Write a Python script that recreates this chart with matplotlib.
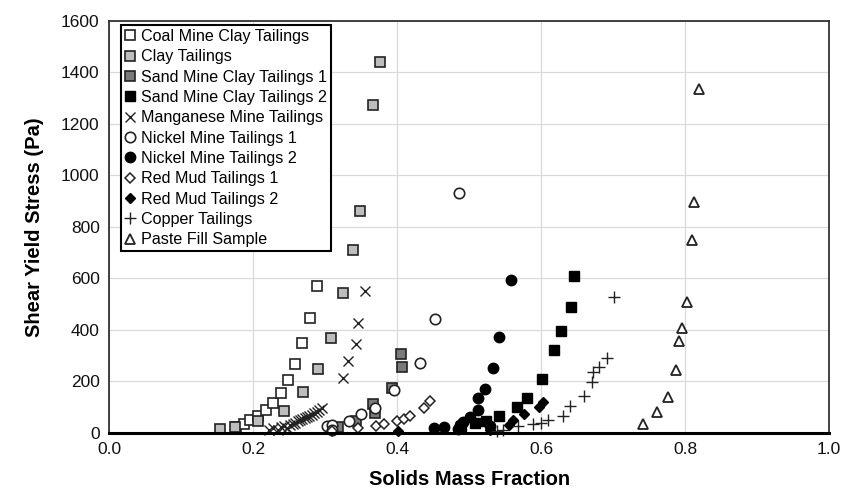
import matplotlib
matplotlib.use("Agg")
import matplotlib.pyplot as plt

plt.rcParams['font.family'] = ['Liberation Sans', 'DejaVu Sans']

# Solids mass fraction (x) and shear yield stress in Pa (y) for each material
coal_x = [0.176, 0.187, 0.196, 0.207, 0.218, 0.228, 0.238, 0.248, 0.258, 0.268, 0.279, 0.288]
coal_y = [22, 35, 48, 66, 89, 115, 154, 206, 268, 348, 445, 568]

clay_x = [0.154, 0.174, 0.207, 0.242, 0.269, 0.290, 0.308, 0.325, 0.338, 0.348, 0.367, 0.376]
clay_y = [14, 21, 46, 86, 160, 249, 368, 543, 708, 862, 1274, 1440]

sand1_x = [0.318, 0.342, 0.366, 0.369, 0.393, 0.405, 0.407]
sand1_y = [22, 44, 113, 75, 174, 305, 255]

sand2_x = [0.489, 0.508, 0.524, 0.542, 0.566, 0.581, 0.601, 0.618, 0.627, 0.641, 0.646]
sand2_y = [25, 37, 46, 65, 99, 135, 208, 320, 396, 488, 607]

mang_x = [0.222, 0.228, 0.234, 0.239, 0.243, 0.247, 0.251, 0.255, 0.258, 0.262,
          0.265, 0.268, 0.272, 0.275, 0.278, 0.282, 0.285, 0.288, 0.291, 0.295,
          0.324, 0.332, 0.343, 0.345, 0.355]
mang_y = [12, 18, 10, 22, 26, 20, 30, 34, 38, 44,
          48, 52, 56, 60, 66, 70, 76, 82, 88, 96,
          212, 280, 346, 428, 549]

nick1_x = [0.302, 0.309, 0.310, 0.333, 0.349, 0.369, 0.396, 0.432, 0.452, 0.486]
nick1_y = [25, 30, 10, 46, 72, 96, 167, 271, 441, 931]

nick2_x = [0.451, 0.465, 0.485, 0.487, 0.492, 0.501, 0.512, 0.512, 0.522, 0.533, 0.541, 0.558, 0.529]
nick2_y = [18, 22, 15, 30, 40, 62, 88, 135, 168, 250, 370, 592, 25]

red1_x = [0.309, 0.346, 0.371, 0.382, 0.399, 0.409, 0.418, 0.437, 0.445]
red1_y = [5, 18, 25, 35, 44, 53, 65, 96, 122]

red2_x = [0.401, 0.529, 0.556, 0.561, 0.576, 0.597, 0.602]
red2_y = [5, 10, 31, 50, 72, 100, 118]

copper_x = [0.539, 0.547, 0.568, 0.589, 0.600, 0.609, 0.630, 0.640, 0.660, 0.671, 0.672, 0.681, 0.691, 0.701]
copper_y = [5, 12, 25, 35, 37, 50, 63, 104, 144, 198, 234, 256, 290, 529]

paste_x = [0.741, 0.761, 0.777, 0.787, 0.791, 0.796, 0.803, 0.809, 0.813, 0.820]
paste_y = [34, 79, 139, 245, 355, 407, 506, 750, 898, 1335]

edge = '#222222'
series = [
    (coal_x, coal_y, 'Coal Mine Clay Tailings', dict(marker='s', ms=7, mfc='white', mec=edge, mew=1.2)),
    (clay_x, clay_y, 'Clay Tailings', dict(marker='s', ms=7, mfc='#bdbdbd', mec=edge, mew=1.2)),
    (sand1_x, sand1_y, 'Sand Mine Clay Tailings 1', dict(marker='s', ms=7, mfc='#7a7a7a', mec=edge, mew=1.2)),
    (sand2_x, sand2_y, 'Sand Mine Clay Tailings 2', dict(marker='s', ms=7, mfc='black', mec='black', mew=1.0)),
    (mang_x, mang_y, 'Manganese Mine Tailings', dict(marker='x', ms=7.5, mec=edge, mew=1.0)),
    (nick1_x, nick1_y, 'Nickel Mine Tailings 1', dict(marker='o', ms=7.5, mfc='white', mec=edge, mew=1.2)),
    (nick2_x, nick2_y, 'Nickel Mine Tailings 2', dict(marker='o', ms=7.5, mfc='black', mec='black', mew=1.0)),
    (red1_x, red1_y, 'Red Mud Tailings 1', dict(marker='D', ms=5.5, mfc='white', mec=edge, mew=1.1)),
    (red2_x, red2_y, 'Red Mud Tailings 2', dict(marker='D', ms=5.5, mfc='black', mec='black', mew=1.0)),
    (copper_x, copper_y, 'Copper Tailings', dict(marker='+', ms=8, mec=edge, mew=1.0)),
    (paste_x, paste_y, 'Paste Fill Sample', dict(marker='^', ms=7, mfc='white', mec=edge, mew=1.3)),
]

fig = plt.figure(figsize=(8.45, 4.98), dpi=100)
ax = fig.add_axes([0.1295, 0.1311, 0.8515, 0.8271])

for xs, ys, label, style in series:
    ax.plot(xs, ys, linestyle='none', label=label, clip_on=False, **style)

ax.set_xlim(0, 1.0)
ax.set_ylim(0, 1600)
ax.set_xticks([0.0, 0.2, 0.4, 0.6, 0.8, 1.0])
ax.set_xticklabels(['0.0', '0.2', '0.4', '0.6', '0.8', '1.0'])
ax.set_yticks(range(0, 1601, 200))
ax.tick_params(length=0, labelsize=12.5, pad=7, colors='#111111')
ax.grid(True, color='#d9d9d9', linewidth=0.9)
ax.set_axisbelow(True)

for side in ['left', 'top', 'right']:
    ax.spines[side].set_color('#333333')
    ax.spines[side].set_linewidth(1.3)
ax.spines['bottom'].set_color('black')
ax.spines['bottom'].set_linewidth(2.2)

ax.set_xlabel('Solids Mass Fraction', fontsize=14.5, fontweight='bold', labelpad=9)
ax.set_ylabel('Shear Yield Stress (Pa)', fontsize=14.5, fontweight='bold', labelpad=12)

leg = ax.legend(loc='upper left', bbox_to_anchor=(0.0157, 0.9898), borderaxespad=0,
                fontsize=11.6, frameon=True, fancybox=False, handlelength=0.7,
                handletextpad=0.3, labelspacing=0.33, borderpad=0.25, numpoints=1)
leg.get_frame().set_edgecolor('black')
leg.get_frame().set_linewidth(1.5)
leg.get_frame().set_alpha(1)

fig.savefig('out.png', dpi=100)
